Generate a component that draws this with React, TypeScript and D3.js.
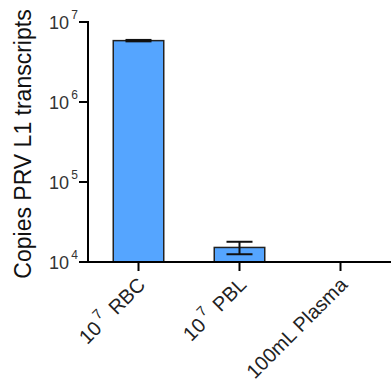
import React from "react";
import * as d3 from "d3";

const categories = ["RBC", "PBL", "Plasma"];
const labelMain = ["10", "10", "100mL Plasma"];
const labelSup = ["7", "7", ""];
const labelRest = [" RBC", " PBL", ""];
const means: (number | null)[] = [5.85e6, 1.52e4, null];
const errs: (number | null)[] = [0.12e6, 0.27e4, null];
const yTickExp = [4, 5, 6, 7];

const W = 391;
const H = 383;
const left = 88;
const right = 391;
const top = 22;
const bottom = 262;

export default function App() {
  const x = d3.scaleBand<string>().domain(categories).range([left, right]).paddingInner(0.5).paddingOuter(0.25);
  const y = d3.scaleLog().domain([1e4, 1e7]).range([bottom, top]);
  const font = "Arial, 'Liberation Sans', sans-serif";
  const capW = 26;
  return (
    <svg width={W} height={H} style={{ position: "absolute", left: 0, top: 0 }} fontFamily={font}>
      {/* bars */}
      {categories.map((c, i) => {
        const m = means[i];
        if (m == null) return null;
        const x0 = x(c)!;
        const bw = x.bandwidth();
        const cx = x0 + bw / 2;
        const e = errs[i]!;
        const yHi = y(m + e);
        const yLo = y(Math.max(m - e, 1e4));
        return (
          <g key={c}>
            <rect x={x0} y={y(m)} width={bw} height={bottom - y(m)} fill="#55A5FF" stroke="#222" strokeWidth={1.5} />
            <line x1={cx} x2={cx} y1={yHi} y2={yLo} stroke="#111" strokeWidth={2} />
            <line x1={cx - capW / 2} x2={cx + capW / 2} y1={yHi} y2={yHi} stroke="#111" strokeWidth={2} />
            <line x1={cx - capW / 2} x2={cx + capW / 2} y1={yLo} y2={yLo} stroke="#111" strokeWidth={2} />
          </g>
        );
      })}
      {/* y axis */}
      <line x1={left} x2={left} y1={top - 1} y2={bottom + 1} stroke="#000" strokeWidth={2} />
      {yTickExp.map((e) => {
        const yy = y(Math.pow(10, e));
        return (
          <g key={e}>
            <line x1={left - 9} x2={left} y1={yy} y2={yy} stroke="#000" strokeWidth={2} />
            <text x={left - 19} y={yy + 7} textAnchor="end" fontSize={18} fill="#333">10</text>
            <text x={left - 10} y={yy - 3} textAnchor="end" fontSize={12} fill="#333">{e}</text>
          </g>
        );
      })}
      {/* x axis */}
      <line x1={left - 1} x2={right} y1={bottom} y2={bottom} stroke="#000" strokeWidth={2} />
      {categories.map((c, i) => {
        const cx = x(c)! + x.bandwidth() / 2;
        return (
          <g key={c}>
            <line x1={cx} x2={cx} y1={bottom} y2={bottom + 9} stroke="#000" strokeWidth={2} />
            <text transform={`translate(${cx + 8},${bottom + 24}) rotate(-45)`} textAnchor="end" fontSize={20} fill="#222">
              <tspan>{labelMain[i]}</tspan>
              {labelSup[i] ? <tspan fontSize={14} dy={-10} dx={3}>{labelSup[i]}</tspan> : null}
              {labelRest[i] ? <tspan dy={10} dx={3}>{labelRest[i]}</tspan> : null}
            </text>
          </g>
        );
      })}
      {/* y label */}
      <text transform={`translate(31,${(top + bottom) / 2 + 2}) rotate(-90)`} textAnchor="middle" fontSize={23} fill="#111">
        Copies PRV L1 transcripts
      </text>
    </svg>
  );
}
